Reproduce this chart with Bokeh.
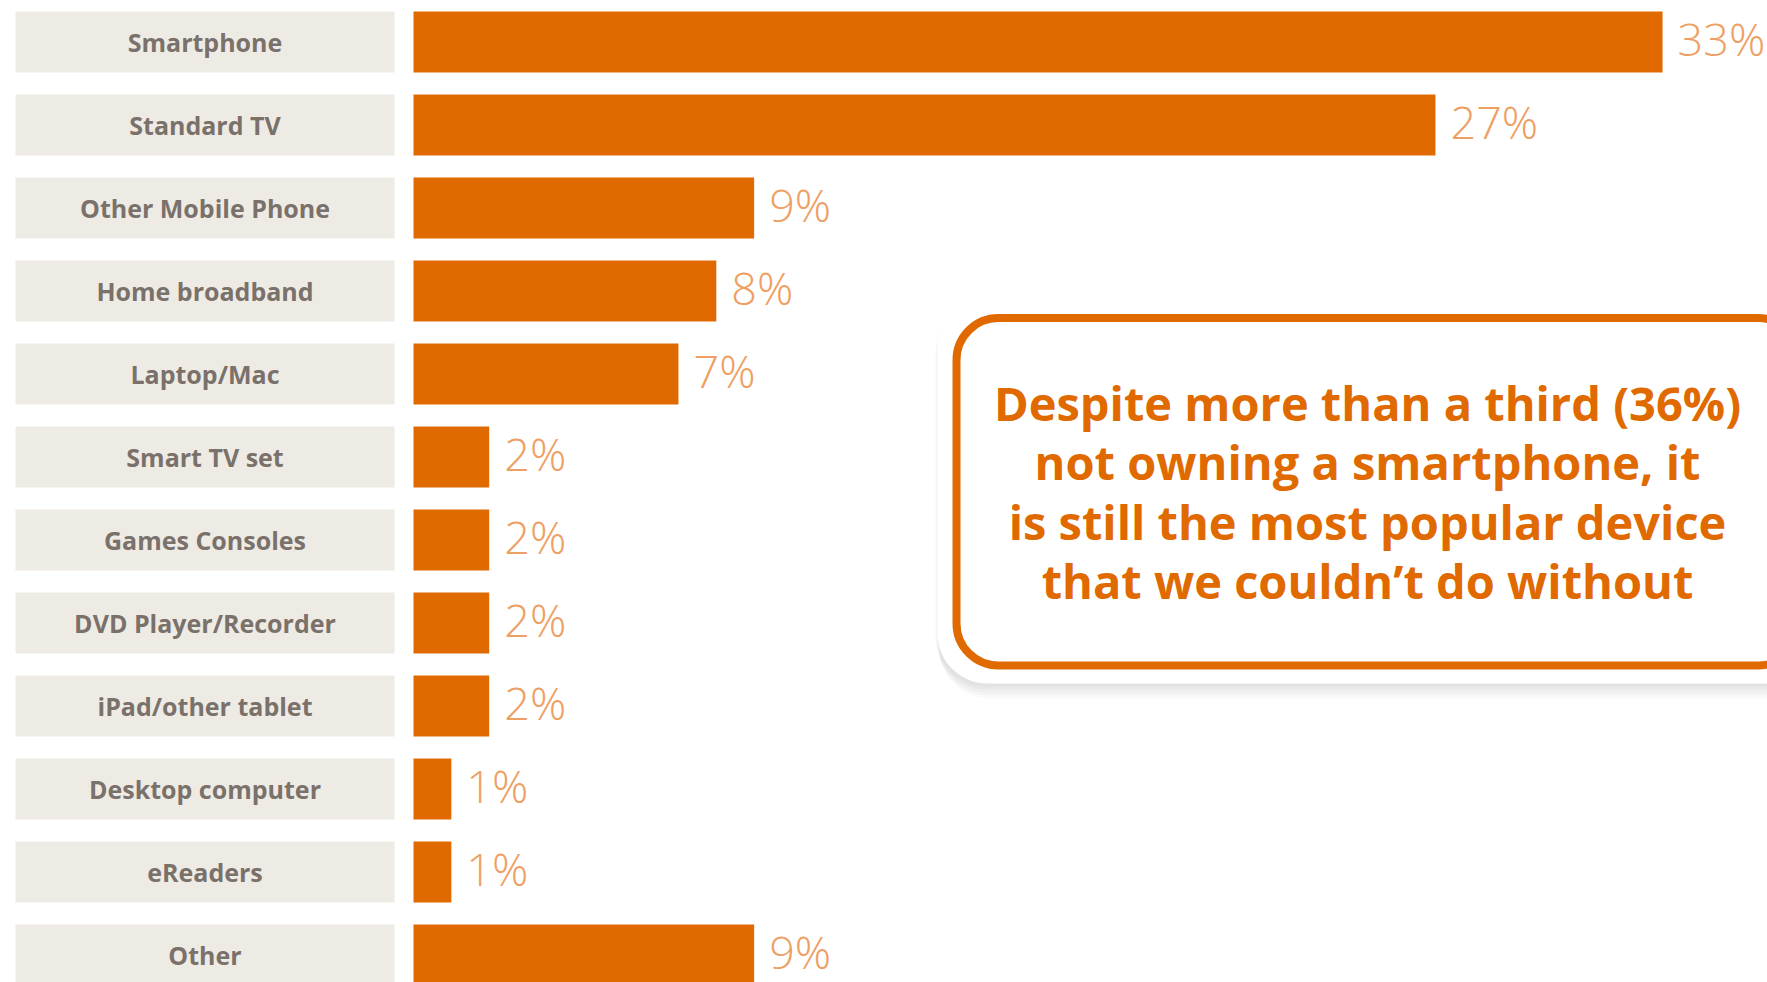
import numpy as np
from bokeh.plotting import figure
from bokeh.models import Range1d, ColumnDataSource
from bokeh.core.properties import value
from bokeh.embed import file_html
from bokeh.resources import INLINE

# ---- data ----
categories = ["Smartphone", "Standard TV", "Other Mobile Phone", "Home broadband",
              "Laptop/Mac", "Smart TV set", "Games Consoles", "DVD Player/Recorder",
              "iPad/other tablet", "Desktop computer", "eReaders", "Other"]
values = [33, 27, 9, 8, 7, 2, 2, 2, 2, 1, 1, 9]
value_labels = ["33%", "27%", "9%", "8%", "7%", "2%", "2%", "2%", "2%", "1%", "1%", "9%"]
callout_lines = ["Despite more than a third (36%)",
                 "not owning a smartphone, it",
                 "is still the most popular device",
                 "that we couldn\u2019t do without"]

# ---- colours / styling ----
ORANGE = "#E06A00"
LIGHT_ORANGE = "#EEA064"
BOX = "#EEEBE5"
GREY_TXT = "#7A716A"

W, H = 1767, 982
PX_PER_UNIT = 37.85       # pixels per percentage point
X0 = 413                  # canvas x of 0%
ROW = 83                  # pixels per row
Y0 = 41.5                 # canvas y of first row centre

def X(px):  # canvas px -> data x
    return (px - X0) / PX_PER_UNIT

def Y(py):  # canvas py -> data y
    return (py - Y0) / ROW

p = figure(width=W, height=H, output_backend="svg", toolbar_location=None,
           x_range=Range1d(X(0), X(W)), y_range=Range1d(Y(H), Y(0)),
           min_border=0)
p.axis.visible = False
p.xgrid.visible = False
p.ygrid.visible = False
p.outline_line_color = None
p.background_fill_color = "white"

idx = np.arange(len(categories))
src = ColumnDataSource(dict(y=idx, v=values, cat=categories, lab=value_labels,
                            lx=np.array(values) + 15 / PX_PER_UNIT,
                            ly=idx - 4 / ROW))

bar_h = 61 / ROW
# label boxes
p.hbar(y="y", left=X(15), right=X(394), height=bar_h, source=src,
       fill_color=BOX, line_color=None)
p.text(x=X(204.5), y="y", text="cat", source=src, text_align="center",
       text_baseline="middle", text_font=value("Open Sans"), text_font_style="bold",
       text_font_size="25px", text_color=GREY_TXT)
# bars
p.hbar(y="y", left=0, right="v", height=bar_h, source=src,
       fill_color=ORANGE, line_color=None)
p.text(x="lx", y="ly", text="lab", source=src, text_align="left",
       text_baseline="middle", text_font=value("Open Sans Light"),
       text_font_size="45px", text_color=LIGHT_ORANGE)

# ---- callout ----
# shadow
for k, a in enumerate([0.05, 0.05, 0.05, 0.05, 0.04]):
    off = 3 + 3 * k
    p.quad(left=X(937 - 2 + k), right=X(1900), top=Y(299 + off), bottom=Y(683 + off),
           border_radius=50, fill_color="#808080", fill_alpha=a, line_color=None)
p.quad(left=X(937), right=X(1900), top=Y(298), bottom=Y(683),
       border_radius=50, fill_color="white", line_color=None)
p.quad(left=X(956), right=X(1800), top=Y(317.5), bottom=Y(665),
       border_radius=42, fill_color="white", line_color=ORANGE, line_width=8)

base = [402, 461.5, 521, 580.5]
p.text(x=[X(1367)] * 4, y=[Y(b) for b in base], text=callout_lines,
       text_align="center", text_baseline="alphabetic",
       text_font=value("Open Sans"), text_font_style="bold",
       text_font_size="47px", text_color=ORANGE)

open("out.html", "w").write(file_html(p, INLINE))
